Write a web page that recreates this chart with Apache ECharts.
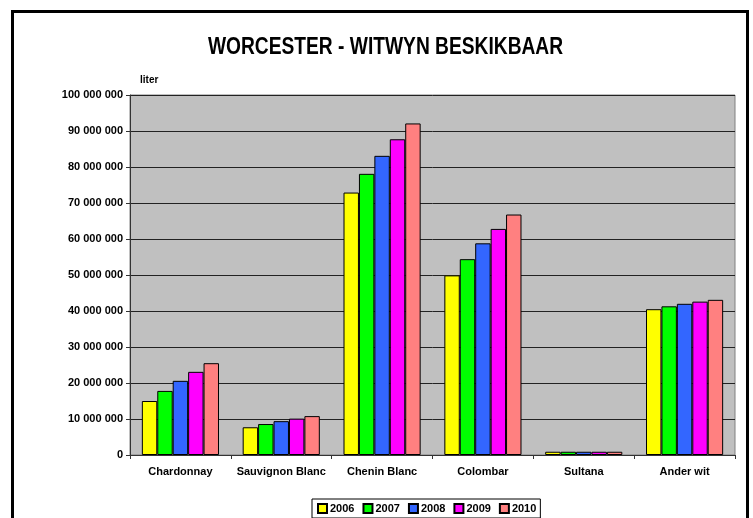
<!DOCTYPE html>
<html><head><meta charset="utf-8">
<script src="https://cdn.jsdelivr.net/npm/echarts@6/dist/echarts.min.js"></script>
<style>html,body{margin:0;padding:0;background:#fff}#c{width:753px;height:518px}</style>
</head><body><div id="c"></div>
<script>
const categories = ["Chardonnay", "Sauvignon Blanc", "Chenin Blanc", "Colombar", "Sultana", "Ander wit"];
const years = ["2006", "2007", "2008", "2009", "2010"];
const v2006 = [15000000, 7700000, 72900000, 49900000, 900000, 40500000];
const v2007 = [17800000, 8600000, 78100000, 54400000, 900000, 41300000];
const v2008 = [20600000, 9400000, 83100000, 58800000, 900000, 42000000];
const v2009 = [23100000, 10100000, 87700000, 62800000, 900000, 42600000];
const v2010 = [25500000, 10800000, 92100000, 66800000, 900000, 43100000];
const colors = ["#FFFF00", "#00FF00", "#3366FF", "#FF00FF", "#FF8080"];
const seriesValues = [v2006, v2007, v2008, v2009, v2010];
const titleText = 'WORCESTER - WITWYN BESKIKBAAR';

const font = "'Liberation Sans', Arial, sans-serif";
const chart = echarts.init(document.getElementById('c'), null, {renderer: 'canvas'});
chart.setOption({
  animation: false,
  backgroundColor: '#fff',
  textStyle: {fontFamily: font},
  graphic: [{
    type: 'rect', z: 100,
    shape: {x: 12.5, y: 11.5, width: 735, height: 530},
    style: {fill: 'none', stroke: '#000', lineWidth: 3}
  }, {
    type: 'text', x: 385.5, y: 47, scaleX: 0.8,
    style: {text: titleText, fontFamily: font, fontSize: 24, fontWeight: 'bold', fill: '#000', align: 'center', verticalAlign: 'middle'}
  }],
  legend: {
    data: years,
    left: 312, top: 499,
    itemWidth: 9, itemHeight: 9, itemGap: 8,
    padding: [4, 4, 4, 5],
    borderColor: '#000', borderWidth: 1,
    icon: 'rect',
    textStyle: {fontFamily: font, fontSize: 11, fontWeight: 'bold', color: '#000', padding: [0, 0, 0, -2]}
  },
  grid: {
    left: 130, right: 18, top: 95, bottom: 63,
    show: true, backgroundColor: '#C0C0C0', borderColor: '#808080', borderWidth: 1
  },
  xAxis: {
    type: 'category', data: categories,
    axisLine: {lineStyle: {color: '#333', width: 1}},
    axisTick: {show: true, length: 4, interval: 0, lineStyle: {color: '#333'}},
    axisLabel: {interval: 0, fontFamily: font, fontSize: 11, fontWeight: 'bold', color: '#000', margin: 11}
  },
  yAxis: {
    type: 'value', min: 0, max: 100000000, interval: 10000000,
    name: 'liter', nameLocation: 'end', nameGap: 10,
    nameTextStyle: {fontFamily: font, fontSize: 10, fontWeight: 'bold', color: '#000', align: 'left', padding: [0, 0, 0, 10]},
    axisLine: {show: true, lineStyle: {color: '#333'}},
    axisTick: {show: true, length: 4, lineStyle: {color: '#333'}},
    splitLine: {lineStyle: {color: '#222', width: 1}},
    axisLabel: {
      fontFamily: font, fontSize: 11, fontWeight: 'bold', color: '#000', margin: 7,
      formatter: v => String(v).replace(/\B(?=(\d{3})+(?!\d))/g, ' ')
    }
  },
  series: years.map((y, i) => ({
    name: y, type: 'bar', data: seriesValues[i],
    barGap: '0%', barCategoryGap: '23.5%',
    itemStyle: {color: colors[i], borderColor: '#000', borderWidth: 1}
  }))
});
</script></body></html>
